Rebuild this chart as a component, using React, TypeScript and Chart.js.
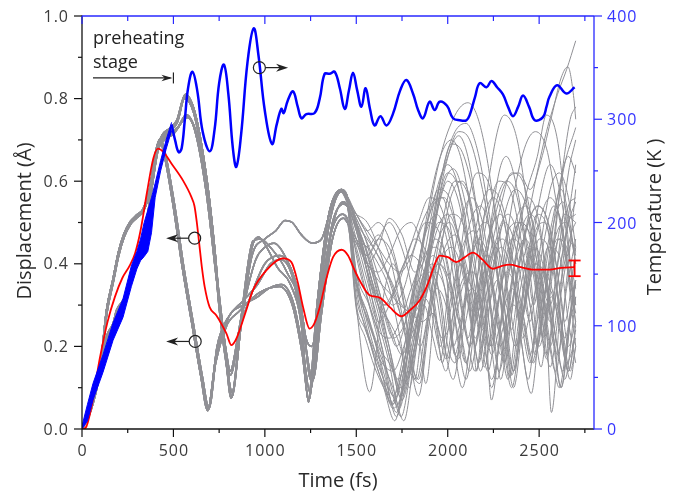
import React, { useEffect, useRef } from "react";
import { Chart, registerables } from "chart.js";

Chart.register(...registerables);

type P = [number, number];

// ---------- axes ----------
const timeTicks = [0, 500, 1000, 1500, 2000, 2500];
const timeTickLabels = ["0", "500", "1000", "1500", "2000", "2500"];
const timeMinor = [250, 750, 1250, 1750, 2250, 2750];
const dispTicks = [0, 0.2, 0.4, 0.6, 0.8, 1.0];
const dispTickLabels = ["0.0", "0.2", "0.4", "0.6", "0.8", "1.0"];
const dispMinor = [0.1, 0.3, 0.5, 0.7, 0.9];
const tempTicks = [0, 100, 200, 300, 400];
const tempTickLabels = ["0", "100", "200", "300", "400"];
const tempMinor = [50, 150, 250, 350];

// ---------- temperature (K) ----------
const preheatTimes = [0, 30, 60, 115, 170, 224, 270, 300, 320, 340, 360, 380, 400, 430, 460, 490];
const preheatLow = [0, 8, 28, 55, 86, 108, 138, 155, 163, 167, 172, 190, 224, 250, 271, 289];
const preheatHigh = [3, 24, 44, 72, 103, 126, 158, 172, 184, 200, 212, 224, 238, 260, 280, 297];
const temperature: P[] = [
  [490, 295], [510, 279], [529, 268], [545, 272], [562, 299], [580, 330], [604, 346], [630, 328],
  [660, 288], [699, 269], [725, 290], [750, 335], [776, 353], [800, 325], [825, 272], [844, 254],
  [870, 285], [905, 355], [939, 388], [965, 362], [1000, 308], [1039, 276], [1065, 295], [1090, 310],
  [1103, 306], [1125, 318], [1154, 327], [1180, 312], [1200, 301], [1227, 305], [1272, 306], [1300, 320],
  [1327, 344], [1355, 344], [1382, 346], [1410, 330], [1437, 310], [1460, 328], [1482, 345], [1505, 328],
  [1528, 312], [1551, 330], [1575, 310], [1600, 294], [1632, 303], [1665, 294], [1700, 305], [1740, 328],
  [1774, 338], [1810, 325], [1838, 309], [1865, 301], [1901, 317], [1929, 309], [1956, 317], [1996, 313],
  [2029, 301], [2066, 299], [2102, 299], [2120, 304], [2150, 322], [2175, 335], [2212, 331], [2239, 337],
  [2270, 331], [2302, 324], [2330, 312], [2357, 303], [2385, 312], [2412, 323], [2445, 312], [2476, 299],
  [2521, 302], [2540, 312], [2557, 322], [2598, 333], [2649, 325], [2694, 331],
];

// ---------- mean displacement (Å) ----------
const meanDisp: P[] = [
  [0, 0], [20, 0.003], [50, 0.05], [97, 0.17], [140, 0.26], [180, 0.32], [220, 0.365], [260, 0.395],
  [290, 0.425], [320, 0.48], [355, 0.572], [390, 0.655], [415, 0.679], [445, 0.671], [489, 0.643],
  [552, 0.602], [598, 0.562], [615, 0.54], [628, 0.5], [642, 0.445], [656, 0.39], [671, 0.344],
  [698, 0.295], [735, 0.275], [790, 0.231], [817, 0.203], [840, 0.215], [862, 0.239], [900, 0.29],
  [935, 0.336], [1008, 0.384], [1099, 0.413], [1145, 0.404], [1180, 0.355], [1209, 0.295], [1245, 0.243],
  [1270, 0.255], [1300, 0.295], [1340, 0.37], [1373, 0.416], [1420, 0.434], [1455, 0.42], [1491, 0.384],
  [1518, 0.36], [1573, 0.324], [1628, 0.318], [1683, 0.295], [1747, 0.273], [1792, 0.287], [1847, 0.312],
  [1892, 0.352], [1930, 0.4], [1956, 0.42], [2001, 0.416], [2047, 0.404], [2090, 0.415], [2138, 0.427],
  [2190, 0.41], [2248, 0.388], [2290, 0.394], [2339, 0.398], [2400, 0.392], [2466, 0.386], [2557, 0.386],
  [2620, 0.39], [2694, 0.392],
];
const errTime = 2694;
const errLow = 0.37;
const errHigh = 0.408;

// ---------- individual trajectories, early part (0-1450 fs) ----------
const gE1: P[] = [[0,0],[40,0.04],[80,0.11],[105,0.165],[135,0.285],[170,0.36],[200,0.425],[230,0.47],[265,0.5],[300,0.515],[335,0.53],[372,0.58],[408,0.675],[440,0.71],[480,0.725],[520,0.745],[565,0.81],[618,0.764],[682,0.603],[727,0.426],[755,0.288],[790,0.17],[819,0.077],[870,0.25],[930,0.42],[1000,0.46],[1060,0.48],[1110,0.505],[1150,0.5],[1200,0.47],[1260,0.45],[1310,0.46],[1360,0.53],[1420,0.58],[1450,0.565]];
const gE2: P[] = [[0,0],[40,0.042],[80,0.112],[105,0.168],[135,0.288],[170,0.362],[200,0.428],[230,0.472],[265,0.502],[300,0.518],[335,0.533],[372,0.585],[408,0.678],[440,0.712],[480,0.728],[520,0.748],[562,0.805],[615,0.768],[680,0.61],[725,0.435],[752,0.295],[788,0.17],[816,0.075],[870,0.27],[935,0.455],[975,0.46],[1030,0.44],[1120,0.38],[1200,0.27],[1238,0.065],[1290,0.32],[1350,0.52],[1415,0.575],[1450,0.55]];
const gE3: P[] = [[0,0],[40,0.038],[80,0.108],[105,0.162],[135,0.28],[170,0.355],[200,0.42],[230,0.465],[265,0.496],[300,0.512],[335,0.528],[372,0.578],[408,0.67],[440,0.702],[480,0.715],[525,0.73],[570,0.76],[620,0.72],[680,0.575],[740,0.35],[790,0.18],[810,0.14],[860,0.24],[930,0.33],[1000,0.4],[1080,0.42],[1150,0.38],[1210,0.26],[1248,0.12],[1300,0.3],[1360,0.47],[1425,0.52],[1450,0.51]];
const gE4: P[] = [[0,0],[40,0.036],[80,0.1],[105,0.16],[135,0.224],[171,0.256],[190,0.288],[226,0.312],[262,0.353],[290,0.393],[317,0.433],[344,0.474],[380,0.58],[415,0.675],[450,0.7],[500,0.715],[575,0.755],[625,0.715],[690,0.55],[745,0.34],[795,0.16],[812,0.13],[870,0.27],[950,0.41],[1000,0.44],[1050,0.45],[1120,0.41],[1190,0.32],[1225,0.22],[1255,0.2],[1310,0.33],[1370,0.5],[1430,0.545],[1450,0.54]];
const gE5: P[] = [[0,0],[40,0.04],[80,0.11],[105,0.166],[135,0.286],[170,0.36],[200,0.426],[230,0.47],[265,0.5],[300,0.515],[335,0.53],[372,0.58],[405,0.672],[425,0.7],[450,0.665],[500,0.54],[550,0.39],[600,0.26],[650,0.13],[688,0.045],[730,0.16],[790,0.25],[860,0.285],[970,0.33],[1080,0.345],[1150,0.3],[1205,0.18],[1240,0.07],[1290,0.28],[1350,0.49],[1420,0.575],[1450,0.56]];
const gE6: P[] = [[0,0],[40,0.035],[80,0.098],[105,0.158],[135,0.22],[171,0.252],[190,0.284],[226,0.308],[262,0.35],[290,0.39],[317,0.43],[344,0.47],[380,0.58],[410,0.668],[432,0.698],[458,0.66],[508,0.535],[558,0.385],[608,0.255],[658,0.125],[693,0.05],[740,0.2],[800,0.27],[880,0.31],[960,0.35],[1030,0.4],[1090,0.41],[1150,0.37],[1210,0.24],[1262,0.118],[1310,0.28],[1370,0.46],[1430,0.51],[1450,0.5]];
const gE7: P[] = [[0,0],[40,0.041],[80,0.111],[105,0.167],[135,0.287],[170,0.361],[200,0.427],[230,0.471],[265,0.501],[300,0.516],[335,0.531],[372,0.582],[405,0.674],[428,0.702],[455,0.66],[505,0.53],[555,0.38],[605,0.25],[655,0.12],[690,0.05],[735,0.18],[800,0.27],[880,0.3],[960,0.32],[1020,0.34],[1090,0.35],[1160,0.3],[1215,0.17],[1245,0.09],[1300,0.27],[1365,0.48],[1430,0.55],[1450,0.54]];
const gE8: P[] = [[0,0],[40,0.039],[80,0.109],[105,0.164],[135,0.284],[170,0.358],[200,0.423],[230,0.468],[265,0.498],[300,0.513],[335,0.528],[372,0.578],[408,0.672],[440,0.706],[480,0.722],[520,0.742],[560,0.8],[612,0.765],[678,0.605],[724,0.43],[752,0.29],[786,0.17],[820,0.09],[875,0.27],[930,0.44],[965,0.465],[1010,0.44],[1070,0.39],[1140,0.35],[1200,0.25],[1236,0.07],[1285,0.3],[1350,0.52],[1418,0.58],[1450,0.56]];

// ---------- individual trajectories, late part (1500-2700 fs) ----------
const gL1: P[] = [[1500,0.42],[1570,0.3],[1640,0.18],[1720,0.03],[1800,0.25],[1880,0.48],[1960,0.66],[2040,0.76],[2110,0.79],[2180,0.73],[2250,0.55],[2310,0.3],[2350,0.13],[2420,0.36],[2490,0.52],[2550,0.48],[2610,0.3],[2660,0.14],[2700,0.25]];
const gL2: P[] = [[1500,0.3],[1573,0.09],[1640,0.3],[1700,0.4],[1760,0.3],[1820,0.12],[1860,0.25],[1930,0.5],[2000,0.62],[2060,0.58],[2120,0.42],[2157,0.14],[2210,0.4],[2280,0.62],[2320,0.66],[2380,0.58],[2450,0.38],[2510,0.15],[2570,0.42],[2630,0.62],[2700,0.73]];
const gL3: P[] = [[1500,0.46],[1560,0.42],[1620,0.46],[1680,0.5],[1740,0.45],[1800,0.35],[1850,0.2],[1880,0.11],[1940,0.36],[2010,0.55],[2080,0.6],[2140,0.52],[2200,0.32],[2239,0.07],[2300,0.3],[2370,0.5],[2430,0.54],[2490,0.44],[2540,0.25],[2567,0.04],[2630,0.4],[2700,0.64]];
const gL4: P[] = [[1500,0.48],[1560,0.4],[1620,0.44],[1680,0.51],[1750,0.47],[1820,0.38],[1900,0.45],[1960,0.6],[2020,0.69],[2080,0.67],[2150,0.55],[2210,0.38],[2260,0.2],[2290,0.12],[2350,0.34],[2420,0.55],[2490,0.66],[2540,0.76],[2600,0.7],[2650,0.5],[2700,0.25]];
const gL5: P[] = [[1500,0.38],[1570,0.24],[1650,0.12],[1700,0.05],[1756,0.1],[1800,0.24],[1860,0.36],[1920,0.42],[1980,0.35],[2030,0.2],[2060,0.17],[2110,0.35],[2170,0.46],[2230,0.4],[2280,0.25],[2330,0.12],[2390,0.32],[2450,0.42],[2500,0.33],[2560,0.15],[2620,0.33],[2680,0.45],[2700,0.43]];
const gL6: P[] = [[1500,0.36],[1560,0.28],[1620,0.18],[1690,0.06],[1740,0.14],[1800,0.3],[1870,0.46],[1940,0.52],[2000,0.45],[2060,0.28],[2100,0.16],[2150,0.3],[2210,0.42],[2270,0.38],[2320,0.22],[2360,0.14],[2420,0.34],[2480,0.48],[2530,0.5],[2590,0.36],[2640,0.18],[2670,0.12],[2700,0.2]];
const gL7: P[] = [[1500,0.34],[1580,0.2],[1650,0.1],[1710,0.02],[1780,0.18],[1850,0.35],[1920,0.4],[1960,0.3],[2000,0.17],[2050,0.32],[2110,0.48],[2180,0.54],[2240,0.46],[2300,0.28],[2339,0.126],[2400,0.3],[2460,0.44],[2520,0.4],[2580,0.22],[2620,0.1],[2680,0.3],[2700,0.35]];
const gL8: P[] = [[1500,0.5],[1550,0.4],[1610,0.26],[1680,0.12],[1735,0.05],[1800,0.2],[1860,0.33],[1930,0.54],[2000,0.66],[2060,0.71],[2110,0.66],[2170,0.5],[2230,0.3],[2280,0.14],[2340,0.28],[2400,0.42],[2470,0.58],[2540,0.72],[2600,0.81],[2650,0.87],[2700,0.94]];
const gL9: P[] = [[1500,0.52],[1560,0.48],[1620,0.44],[1680,0.4],[1740,0.38],[1800,0.42],[1860,0.5],[1920,0.55],[1980,0.56],[2040,0.5],[2100,0.38],[2150,0.22],[2200,0.3],[2260,0.45],[2330,0.52],[2390,0.45],[2440,0.28],[2480,0.18],[2540,0.36],[2600,0.48],[2650,0.5],[2700,0.42]];
const gL10: P[] = [[1500,0.36],[1560,0.24],[1620,0.14],[1680,0.08],[1720,0.04],[1780,0.22],[1840,0.4],[1900,0.52],[1970,0.56],[2030,0.45],[2080,0.28],[2120,0.2],[2180,0.34],[2250,0.5],[2320,0.6],[2390,0.62],[2450,0.58],[2510,0.65],[2570,0.76],[2620,0.85],[2657,0.877],[2690,0.8],[2700,0.75]];
const gL11: P[] = [[1500,0.3],[1550,0.24],[1600,0.18],[1650,0.12],[1700,0.08],[1745,0.03],[1800,0.15],[1860,0.3],[1930,0.38],[1990,0.33],[2040,0.18],[2080,0.1],[2140,0.26],[2200,0.38],[2260,0.32],[2310,0.18],[2350,0.1],[2410,0.28],[2470,0.4],[2530,0.36],[2580,0.2],[2620,0.1],[2670,0.28],[2700,0.36]];
const gL12: P[] = [[1500,0.52],[1570,0.46],[1640,0.4],[1710,0.33],[1780,0.2],[1840,0.08],[1900,0.26],[1970,0.42],[2040,0.47],[2100,0.4],[2160,0.26],[2200,0.15],[2260,0.32],[2330,0.48],[2390,0.5],[2450,0.42],[2500,0.28],[2540,0.17],[2600,0.35],[2660,0.5],[2700,0.55]];
const gL13: P[] = [[1500,0.49],[1560,0.4],[1620,0.3],[1680,0.2],[1740,0.08],[1790,0.16],[1850,0.3],[1910,0.44],[1970,0.58],[2030,0.63],[2090,0.56],[2150,0.4],[2200,0.22],[2240,0.1],[2300,0.28],[2370,0.46],[2440,0.56],[2500,0.5],[2550,0.34],[2600,0.2],[2640,0.12],[2700,0.32]];
const gL14: P[] = [[1500,0.44],[1560,0.34],[1620,0.26],[1680,0.3],[1740,0.38],[1800,0.42],[1850,0.4],[1900,0.34],[1950,0.24],[1990,0.17],[2040,0.32],[2100,0.52],[2160,0.62],[2220,0.6],[2280,0.48],[2340,0.3],[2380,0.2],[2440,0.38],[2500,0.55],[2560,0.64],[2620,0.56],[2670,0.4],[2700,0.3]];
const gL15: P[] = [[1500,0.35],[1560,0.27],[1630,0.18],[1700,0.1],[1760,0.02],[1820,0.18],[1890,0.34],[1950,0.46],[2010,0.5],[2070,0.42],[2130,0.26],[2170,0.16],[2230,0.35],[2290,0.44],[2350,0.38],[2400,0.22],[2440,0.12],[2490,0.3],[2550,0.44],[2610,0.42],[2660,0.26],[2700,0.16]];
const gL16: P[] = [[1500,0.51],[1570,0.44],[1630,0.36],[1700,0.3],[1760,0.34],[1820,0.44],[1880,0.5],[1950,0.48],[2010,0.36],[2060,0.2],[2100,0.12],[2160,0.3],[2220,0.46],[2290,0.52],[2340,0.42],[2400,0.22],[2457,0.086],[2510,0.3],[2570,0.48],[2630,0.55],[2680,0.45],[2700,0.4]];
const gL17: P[] = [[1500,0.49],[1560,0.38],[1620,0.28],[1680,0.18],[1740,0.1],[1790,0.14],[1850,0.28],[1920,0.48],[1990,0.64],[2060,0.72],[2120,0.7],[2190,0.58],[2260,0.4],[2320,0.2],[2360,0.1],[2420,0.3],[2490,0.48],[2560,0.56],[2620,0.5],[2670,0.36],[2700,0.3]];
const gL18: P[] = [[1500,0.48],[1550,0.4],[1600,0.33],[1650,0.3],[1700,0.33],[1760,0.4],[1820,0.46],[1880,0.43],[1940,0.32],[1990,0.18],[2030,0.12],[2090,0.3],[2150,0.46],[2210,0.5],[2270,0.42],[2320,0.26],[2360,0.14],[2420,0.3],[2480,0.4],[2540,0.36],[2590,0.22],[2630,0.14],[2680,0.3],[2700,0.36]];
const gL19: P[] = [[1500,0.29],[1550,0.22],[1600,0.15],[1650,0.1],[1700,0.06],[1760,0.16],[1830,0.3],[1900,0.38],[1960,0.32],[2000,0.2],[2040,0.16],[2100,0.34],[2160,0.45],[2220,0.4],[2270,0.26],[2310,0.16],[2370,0.36],[2440,0.5],[2500,0.54],[2560,0.48],[2620,0.32],[2660,0.2],[2700,0.26]];
const gL20: P[] = [[1500,0.5],[1560,0.42],[1630,0.3],[1700,0.16],[1750,0.08],[1810,0.2],[1880,0.4],[1950,0.54],[2000,0.6],[2060,0.55],[2120,0.4],[2180,0.22],[2220,0.14],[2280,0.32],[2350,0.54],[2420,0.68],[2480,0.72],[2540,0.68],[2590,0.56],[2650,0.4],[2700,0.2]];
const gL21: P[] = [[1500,0.36],[1550,0.28],[1610,0.2],[1660,0.12],[1700,0.06],[1750,0.12],[1810,0.24],[1870,0.3],[1920,0.22],[1956,0.166],[2010,0.3],[2080,0.44],[2140,0.48],[2200,0.4],[2250,0.26],[2290,0.18],[2350,0.36],[2420,0.46],[2480,0.4],[2520,0.28],[2560,0.2],[2620,0.36],[2680,0.48],[2700,0.5]];
const gL22: P[] = [[1500,0.43],[1560,0.32],[1620,0.24],[1680,0.22],[1740,0.26],[1800,0.34],[1870,0.42],[1930,0.44],[1990,0.38],[2038,0.18],[2090,0.3],[2160,0.5],[2230,0.58],[2300,0.54],[2360,0.4],[2410,0.24],[2450,0.16],[2510,0.34],[2570,0.5],[2620,0.58],[2660,0.52],[2700,0.4]];
const gL23: P[] = [[1500,0.46],[1560,0.36],[1620,0.26],[1680,0.16],[1730,0.06],[1780,0.14],[1847,0.11],[1900,0.3],[1970,0.5],[2040,0.6],[2100,0.58],[2160,0.46],[2220,0.28],[2270,0.12],[2320,0.26],[2380,0.44],[2450,0.52],[2510,0.46],[2560,0.28],[2600,0.18],[2650,0.36],[2700,0.58]];
const gL24: P[] = [[1500,0.5],[1560,0.46],[1620,0.42],[1690,0.36],[1750,0.3],[1810,0.28],[1880,0.34],[1950,0.4],[2010,0.36],[2070,0.24],[2120,0.14],[2180,0.28],[2240,0.42],[2300,0.46],[2360,0.4],[2420,0.26],[2470,0.16],[2530,0.32],[2600,0.46],[2650,0.44],[2700,0.34]];
const gL25: P[] = [[1500,0.5],[1560,0.4],[1630,0.28],[1700,0.14],[1750,0.07],[1810,0.18],[1880,0.32],[1950,0.4],[2010,0.34],[2060,0.22],[2100,0.16],[2160,0.36],[2230,0.62],[2310,0.76],[2380,0.7],[2440,0.52],[2500,0.3],[2540,0.18],[2600,0.4],[2660,0.62],[2700,0.7]];
const gL26: P[] = [[1500,0.38],[1570,0.3],[1640,0.2],[1700,0.08],[1760,0.16],[1830,0.36],[1900,0.55],[1960,0.66],[2020,0.7],[2070,0.66],[2130,0.52],[2190,0.34],[2240,0.2],[2290,0.34],[2350,0.46],[2400,0.44],[2450,0.3],[2500,0.2],[2560,0.36],[2620,0.6],[2670,0.75],[2700,0.78]];
const gL27: P[] = [[1500,0.45],[1560,0.4],[1620,0.36],[1680,0.33],[1740,0.3],[1800,0.28],[1860,0.26],[1920,0.28],[1970,0.22],[2020,0.26],[2080,0.36],[2140,0.38],[2190,0.3],[2240,0.18],[2290,0.26],[2350,0.34],[2410,0.28],[2450,0.18],[2490,0.26],[2550,0.34],[2600,0.28],[2650,0.16],[2700,0.22]];
const gL28: P[] = [[1500,0.49],[1560,0.44],[1620,0.47],[1680,0.42],[1740,0.3],[1800,0.16],[1840,0.12],[1900,0.28],[1960,0.4],[2020,0.44],[2080,0.38],[2140,0.22],[2180,0.14],[2240,0.34],[2300,0.5],[2370,0.58],[2430,0.54],[2490,0.4],[2550,0.22],[2590,0.14],[2650,0.34],[2700,0.46]];
const gL29: P[] = [[1500,0.5],[1550,0.44],[1600,0.36],[1650,0.28],[1700,0.22],[1760,0.25],[1820,0.34],[1880,0.38],[1930,0.3],[1970,0.16],[2020,0.3],[2070,0.4],[2110,0.34],[2150,0.2],[2200,0.34],[2260,0.44],[2310,0.38],[2350,0.24],[2390,0.36],[2440,0.44],[2480,0.36],[2520,0.22],[2560,0.36],[2610,0.46],[2650,0.4],[2700,0.28]];
const gL30: P[] = [[1500,0.46],[1560,0.4],[1620,0.38],[1680,0.42],[1740,0.48],[1800,0.5],[1860,0.44],[1920,0.3],[1960,0.2],[2010,0.36],[2070,0.5],[2130,0.56],[2190,0.5],[2240,0.36],[2280,0.24],[2330,0.38],[2390,0.5],[2440,0.48],[2490,0.34],[2530,0.24],[2580,0.4],[2640,0.52],[2700,0.5]];
const gL31: P[] = [[1500,0.32],[1540,0.26],[1590,0.2],[1640,0.16],[1700,0.14],[1760,0.2],[1820,0.3],[1880,0.44],[1940,0.58],[2000,0.64],[2050,0.6],[2100,0.48],[2150,0.34],[2190,0.24],[2250,0.4],[2310,0.5],[2360,0.46],[2410,0.34],[2450,0.26],[2500,0.42],[2560,0.58],[2610,0.62],[2660,0.56],[2700,0.44]];
const gL32: P[] = [[1500,0.52],[1560,0.48],[1620,0.5],[1680,0.46],[1740,0.36],[1790,0.22],[1830,0.12],[1880,0.24],[1940,0.34],[1990,0.3],[2030,0.2],[2080,0.28],[2130,0.34],[2180,0.3],[2220,0.2],[2270,0.3],[2320,0.38],[2370,0.34],[2410,0.22],[2460,0.3],[2520,0.38],[2570,0.34],[2620,0.22],[2660,0.14],[2700,0.24]];
const gL33: P[] = [[1500,0.5],[1550,0.42],[1600,0.34],[1660,0.3],[1720,0.34],[1780,0.42],[1840,0.5],[1900,0.56],[1960,0.54],[2020,0.44],[2070,0.3],[2110,0.22],[2160,0.36],[2220,0.52],[2280,0.6],[2340,0.58],[2400,0.46],[2450,0.3],[2490,0.2],[2540,0.36],[2600,0.56],[2660,0.66],[2700,0.62]];
const gL34: P[] = [[1500,0.48],[1560,0.38],[1620,0.3],[1680,0.26],[1740,0.2],[1790,0.1],[1830,0.2],[1880,0.36],[1940,0.48],[2000,0.52],[2060,0.46],[2110,0.34],[2150,0.26],[2200,0.38],[2260,0.54],[2320,0.6],[2380,0.56],[2430,0.42],[2470,0.3],[2520,0.44],[2580,0.54],[2630,0.48],[2670,0.34],[2700,0.26]];
const gL35: P[] = [[1500,0.46],[1560,0.44],[1620,0.4],[1680,0.34],[1740,0.22],[1780,0.12],[1830,0.22],[1890,0.4],[1950,0.5],[2010,0.48],[2060,0.36],[2100,0.24],[2150,0.14],[2210,0.26],[2270,0.36],[2320,0.3],[2370,0.2],[2420,0.3],[2470,0.38],[2520,0.32],[2570,0.18],[2610,0.1],[2660,0.24],[2700,0.32]];
const gL36: P[] = [[1500,0.52],[1560,0.5],[1620,0.44],[1680,0.36],[1740,0.28],[1800,0.22],[1860,0.32],[1920,0.5],[1980,0.64],[2040,0.72],[2100,0.74],[2160,0.68],[2220,0.54],[2280,0.36],[2320,0.22],[2370,0.34],[2430,0.48],[2490,0.54],[2550,0.5],[2600,0.38],[2640,0.26],[2690,0.4],[2700,0.44]];
const gL37: P[] = [[1500,0.36],[1560,0.28],[1620,0.2],[1680,0.16],[1730,0.12],[1790,0.22],[1850,0.32],[1900,0.3],[1950,0.2],[1990,0.14],[2040,0.26],[2100,0.36],[2150,0.32],[2200,0.2],[2240,0.12],[2300,0.24],[2360,0.3],[2410,0.26],[2460,0.16],[2510,0.26],[2570,0.32],[2620,0.26],[2670,0.14],[2700,0.2]];
const gL38: P[] = [[1500,0.45],[1560,0.42],[1620,0.46],[1680,0.44],[1740,0.36],[1800,0.26],[1850,0.2],[1900,0.3],[1960,0.44],[2020,0.52],[2080,0.5],[2140,0.4],[2190,0.28],[2230,0.2],[2280,0.32],[2340,0.44],[2400,0.5],[2460,0.46],[2510,0.36],[2560,0.3],[2610,0.42],[2660,0.54],[2700,0.56]];
const gL39: P[] = [[1500,0.49],[1560,0.43],[1620,0.34],[1690,0.24],[1750,0.18],[1810,0.26],[1870,0.38],[1930,0.46],[1990,0.42],[2040,0.3],[2080,0.24],[2130,0.34],[2190,0.5],[2250,0.56],[2310,0.5],[2360,0.36],[2400,0.26],[2450,0.36],[2500,0.46],[2550,0.44],[2600,0.32],[2640,0.22],[2690,0.34],[2700,0.36]];
const gL40: P[] = [[1500,0.51],[1550,0.46],[1610,0.36],[1670,0.26],[1720,0.2],[1770,0.26],[1830,0.38],[1890,0.5],[1950,0.58],[2010,0.56],[2060,0.46],[2110,0.34],[2160,0.28],[2220,0.4],[2290,0.54],[2350,0.62],[2410,0.6],[2470,0.48],[2520,0.34],[2560,0.26],[2610,0.38],[2660,0.5],[2700,0.52]];

const earlyParts = [gE1, gE2, gE3, gE4, gE5, gE6, gE7, gE8];
const lateParts = [gL1, gL2, gL3, gL4, gL5, gL6, gL7, gL8, gL9, gL10, gL11, gL12, gL13, gL14,
  gL15, gL16, gL17, gL18, gL19, gL20, gL21, gL22, gL23, gL24, gL25, gL26, gL27, gL28,
  gL29, gL30, gL31, gL32, gL33, gL34, gL35, gL36, gL37, gL38, gL39, gL40];
const lateParent = [0, 1, 2, 3, 4, 5, 6, 7, 0, 1, 2, 3, 4, 5, 6, 7, 0, 1, 2, 3, 4, 5, 6, 7, 0, 1, 2, 3,
  4, 5, 6, 7, 0, 1, 2, 3, 4, 5, 6, 7];
const bundleEnd = 830;
const earlyEnd = 1450;

// ---------- annotations (data units) ----------
const preheatEnd = 500;
const preheatArrowStart = 60;
const preheatArrowLevel = 0.85;
const preheatText = ["preheating", "stage"];
const preheatTextLevels = [0.932, 0.874];
const markerRight = { t: 970, d: 0.875, tip: 1127 };
const markersLeft = [
  { t: 616, d: 0.462, tip: 460 },
  { t: 619, d: 0.212, tip: 460 },
];

// ---------- styles ----------
const BLUE = "#0000ff";
const AXIS_BLUE = "#2828ff";
const LABEL_BLUE = "#3535ff";
const RED = "#ff0000";
const GRAY = "#909095";
const TEXT = "#3a3a3a";
const FONT = "'Open Sans', 'Noto Sans', sans-serif";

const toXY = (arr: P[]) => arr.map(([x, y]) => ({ x, y }));

const decorPlugin = {
  id: "decor",
  afterDraw(chart: any) {
    const { ctx, chartArea: a } = chart;
    const xs = chart.scales.x;
    const ys = chart.scales.y;
    const ts = chart.scales.yT;
    ctx.save();
    const seg = (x1: number, y1: number, x2: number, y2: number) => {
      ctx.beginPath();
      ctx.moveTo(x1, y1);
      ctx.lineTo(x2, y2);
      ctx.stroke();
    };
    const head = (x: number, y: number, dir: number, len: number, hw: number) => {
      ctx.beginPath();
      ctx.moveTo(x, y);
      ctx.lineTo(x - dir * len, y - hw);
      ctx.lineTo(x - dir * len * 0.7, y);
      ctx.lineTo(x - dir * len, y + hw);
      ctx.closePath();
      ctx.fill();
    };

    // error bar
    ctx.strokeStyle = RED;
    ctx.lineWidth = 1.8;
    const ex = xs.getPixelForValue(errTime);
    const eyl = ys.getPixelForValue(errLow);
    const eyh = ys.getPixelForValue(errHigh);
    seg(ex, eyl, ex, eyh);
    seg(ex - 6, eyl, ex + 6, eyl);
    seg(ex - 6, eyh, ex + 6, eyh);

    // frame
    ctx.lineWidth = 1.3;
    ctx.strokeStyle = "#111";
    seg(a.left, a.top - 0.5, a.left, a.bottom);
    seg(a.left, a.bottom, a.right, a.bottom);
    ctx.strokeStyle = AXIS_BLUE;
    seg(a.left, a.top, a.right, a.top);
    seg(a.right, a.top, a.right, a.bottom + 0.5);

    // ticks
    ctx.lineWidth = 1.2;
    ctx.strokeStyle = "#111";
    dispTicks.forEach((v) => { const y = ys.getPixelForValue(v); seg(a.left - 8, y, a.left, y); });
    dispMinor.forEach((v) => { const y = ys.getPixelForValue(v); seg(a.left - 4, y, a.left, y); });
    timeTicks.forEach((v) => { const x = xs.getPixelForValue(v); seg(x, a.bottom, x, a.bottom + 8); });
    timeMinor.forEach((v) => { const x = xs.getPixelForValue(v); seg(x, a.bottom, x, a.bottom + 4); });
    ctx.strokeStyle = AXIS_BLUE;
    timeTicks.forEach((v) => { const x = xs.getPixelForValue(v); seg(x, a.top, x, a.top + 8); });
    timeMinor.forEach((v) => { const x = xs.getPixelForValue(v); seg(x, a.top, x, a.top + 5); });
    tempTicks.forEach((v) => { const y = ts.getPixelForValue(v); seg(a.right, y, a.right + 8, y); });
    tempMinor.forEach((v) => { const y = ts.getPixelForValue(v); seg(a.right, y, a.right + 4, y); });

    // tick labels
    ctx.font = `16px ${FONT}`;
    try { (ctx as any).letterSpacing = "1px"; } catch (e) { /* ignore */ }
    ctx.textBaseline = "alphabetic";
    ctx.fillStyle = TEXT;
    ctx.textAlign = "right";
    dispTicks.forEach((v, i) => ctx.fillText(dispTickLabels[i], a.left - 13, ys.getPixelForValue(v) + 5.5));
    ctx.textAlign = "center";
    timeTicks.forEach((v, i) => ctx.fillText(timeTickLabels[i], xs.getPixelForValue(v) + 0.5, a.bottom + 27));
    ctx.fillStyle = LABEL_BLUE;
    ctx.textAlign = "left";
    tempTicks.forEach((v, i) => ctx.fillText(tempTickLabels[i], a.right + 13, ts.getPixelForValue(v) + 6));
    try { (ctx as any).letterSpacing = "0px"; } catch (e) { /* ignore */ }

    // axis titles
    ctx.font = `20px ${FONT}`;
    ctx.fillStyle = "#2a2a2a";
    ctx.textAlign = "center";
    ctx.fillText("Time (fs)", (a.left + a.right) / 2, a.bottom + 58);
    ctx.save();
    ctx.translate(31, 221);
    ctx.rotate(-Math.PI / 2);
    ctx.fillText("Displacement (Å)", 0, 0);
    ctx.restore();
    ctx.save();
    ctx.translate(661, 217);
    ctx.rotate(-Math.PI / 2);
    ctx.fillText("Temperature (K )", 0, 0);
    ctx.restore();

    // preheating annotation
    ctx.font = `18px ${FONT}`;
    ctx.textAlign = "left";
    ctx.fillStyle = "#222";
    const px0 = xs.getPixelForValue(preheatArrowStart);
    preheatText.forEach((s, i) => ctx.fillText(s, px0, ys.getPixelForValue(preheatTextLevels[i])));
    const pxe = xs.getPixelForValue(preheatEnd);
    const pay = ys.getPixelForValue(preheatArrowLevel);
    ctx.strokeStyle = "#222";
    ctx.fillStyle = "#222";
    ctx.lineWidth = 1.2;
    seg(px0, pay, pxe - 3, pay);
    head(pxe - 1, pay, 1, 11, 3.2);
    seg(pxe, pay - 5.5, pxe, pay + 5.5);

    // circle markers with arrows
    const circ = (cx: number, cy: number) => {
      ctx.beginPath();
      ctx.arc(cx, cy, 6, 0, Math.PI * 2);
      ctx.stroke();
    };
    ctx.strokeStyle = "#222";
    ctx.fillStyle = "#222";
    ctx.lineWidth = 1.2;
    {
      const cx = xs.getPixelForValue(markerRight.t);
      const cy = ys.getPixelForValue(markerRight.d);
      const tx = xs.getPixelForValue(markerRight.tip);
      circ(cx, cy);
      seg(cx + 6, cy, tx - 6, cy);
      head(tx, cy, 1, 12, 4);
    }
    markersLeft.forEach((m) => {
      const cx = xs.getPixelForValue(m.t);
      const cy = ys.getPixelForValue(m.d);
      const tx = xs.getPixelForValue(m.tip);
      circ(cx, cy);
      seg(cx - 6, cy, tx + 6, cy);
      head(tx, cy, -1, 12, 4);
    });
    ctx.restore();
  },
};

export default function App() {
  const ref = useRef<HTMLCanvasElement | null>(null);
  useEffect(() => {
    if (!ref.current) return;
    const grayDatasets = lateParts.map((late, i) => ({
      data: toXY([...earlyParts[lateParent[i]], ...late]),
      borderColor: GRAY,
      borderWidth: 1,
      pointRadius: 0,
      fill: false,
      cubicInterpolationMode: "monotone" as const,
      yAxisID: "y",
      segment: {
        borderWidth: (c: any) =>
          c.p1.parsed.x <= bundleEnd ? 2 : c.p1.parsed.x <= earlyEnd ? 1.5 : 1,
      },
    }));
    const chart = new Chart(ref.current, {
      type: "line",
      data: {
        datasets: [
          {
            data: toXY(temperature),
            borderColor: BLUE,
            borderWidth: 2.5,
            pointRadius: 0,
            fill: false,
            tension: 0.4,
            yAxisID: "yT",
          },
          {
            data: preheatTimes.map((t, i) => ({ x: t, y: preheatHigh[i] })),
            borderColor: BLUE,
            backgroundColor: BLUE,
            borderWidth: 1,
            pointRadius: 0,
            fill: "+1",
            tension: 0,
            yAxisID: "yT",
          },
          {
            data: preheatTimes.map((t, i) => ({ x: t, y: preheatLow[i] })),
            borderColor: BLUE,
            borderWidth: 1,
            pointRadius: 0,
            fill: false,
            tension: 0,
            yAxisID: "yT",
          },
          {
            data: toXY(meanDisp),
            borderColor: RED,
            borderWidth: 1.8,
            pointRadius: 0,
            fill: false,
            cubicInterpolationMode: "monotone",
            yAxisID: "y",
          },
          ...grayDatasets,
        ] as any,
      },
      options: {
        responsive: false,
        animation: false,
        devicePixelRatio: 1,
        events: [],
        layout: { padding: { left: 82, top: 16, right: 79, bottom: 64 } },
        plugins: {
          legend: { display: false },
          tooltip: { enabled: false },
          title: { display: false },
        },
        scales: {
          x: { type: "linear", min: 0, max: 2800, display: false },
          y: { type: "linear", min: 0, max: 1, display: false },
          yT: { type: "linear", min: 0, max: 400, display: false, position: "right" },
        },
      } as any,
      plugins: [decorPlugin],
    });
    return () => chart.destroy();
  }, []);
  return (
    <div style={{ position: "fixed", left: 0, top: 0, width: 673, height: 493, background: "#fff" }}>
      <canvas ref={ref} width={673} height={493} style={{ display: "block", width: 673, height: 493 }} />
    </div>
  );
}
